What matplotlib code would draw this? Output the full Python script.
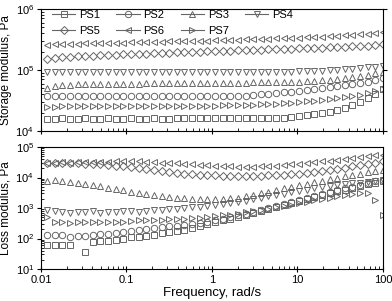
import numpy as np
import matplotlib
matplotlib.use("Agg")
import matplotlib.pyplot as plt
from matplotlib.lines import Line2D
from matplotlib.ticker import LogLocator, NullFormatter

plt.rcParams['font.family'] = ['Liberation Sans', 'DejaVu Sans']
plt.rcParams['mathtext.fontset'] = 'custom'
plt.rcParams['mathtext.rm'] = 'Liberation Sans'

# Frequency, rad/s
freq = [0.01175, 0.01443, 0.01772, 0.02178, 0.02675, 0.03285, 0.04035, 0.04957, 0.06090,
        0.07478, 0.09187, 0.1129, 0.1386, 0.1703, 0.2092, 0.2569, 0.3156, 0.3877, 0.4763,
        0.5849, 0.7185, 0.8825, 1.084, 1.331, 1.636, 2.009, 2.468, 3.031, 3.724, 4.574,
        5.617, 6.901, 8.478, 10.41, 12.79, 15.71, 19.30, 23.71, 29.12, 35.77, 43.94,
        53.97, 66.30, 81.43, 100.0]

labels = ["PS1", "PS2", "PS3", "PS4", "PS5", "PS6", "PS7"]
markers = ["s", "o", "^", "v", "D", "<", ">"]

# Storage modulus, Pa
g1_ps1 = [16000, 16000, 16100, 16000, 16000, 16100, 16000, 16000, 16100, 16000, 16000, 16100,
          16000, 16000, 16100, 16000, 16000, 16100, 16100, 16100, 16100, 16100, 16100, 16200,
          16200, 16200, 16200, 16300, 16300, 16300, 16300, 16600, 17000, 17500, 18000, 18700,
          19500, 20500, 22000, 24000, 27000, 30000, 35000, 41000, 49000]
g1_ps2 = [37000, 37000, 37000, 37000, 37000, 37000, 37000, 37000, 37000, 37000, 37000, 37000,
          37000, 37000, 37000, 37000, 37000, 37000, 37000, 37000, 37000, 37000, 37000, 37200,
          37400, 37700, 38000, 39000, 40000, 41000, 42000, 43000, 44000, 45500, 47000, 48500,
          50000, 52000, 54000, 56000, 58000, 61000, 64000, 68000, 74000]
g1_ps3 = [50000, 55000, 57000, 57500, 58000, 58500, 59000, 59000, 59500, 59500, 60000, 60000,
          60000, 60500, 60500, 60500, 61000, 61000, 61000, 61000, 61000, 61500, 61500, 61500,
          62000, 62000, 62000, 62500, 62500, 63000, 63000, 63500, 64000, 64000, 65000, 66000,
          67500, 69000, 71000, 73000, 76000, 79000, 83000, 88000, 94000]
g1_ps4 = [92000, 92000, 92000, 92000, 92000, 92000, 92000, 92000, 92000, 92000, 92000, 92000,
          92000, 92000, 92000, 92000, 92000, 92000, 92000, 92000, 92000, 92000, 92000, 92000,
          92000, 92000, 92000, 92500, 92500, 93000, 93000, 93500, 94000, 95000, 96000, 97000,
          98000, 99500, 101000, 103000, 105000, 108000, 111000, 114000, 118000]
g1_ps5 = [152000, 158000, 162000, 165000, 168000, 170000, 172000, 174000, 176000, 178000,
          180000, 182000, 184000, 186000, 188000, 190000, 192000, 194000, 196000, 198000,
          200000, 202000, 204000, 206000, 208000, 210000, 212000, 214000, 216000, 218000,
          220000, 222000, 224000, 226000, 228000, 230000, 232000, 235000, 238000, 241000,
          244000, 248000, 252000, 257000, 262000]
g1_ps6 = [255000, 262000, 266000, 268000, 270000, 272000, 274000, 276000, 278000, 280000,
          282000, 284000, 286000, 288000, 290000, 292000, 294000, 296000, 298000, 300000,
          302000, 304000, 307000, 310000, 313000, 316000, 319000, 322000, 325000, 328000,
          331000, 334000, 337000, 341000, 345000, 349000, 353000, 358000, 363000, 369000,
          375000, 382000, 392000, 405000, 420000]
g1_ps7 = [24500, 25000, 25500, 25500, 25500, 25500, 25500, 25500, 25500, 25500, 25700, 25700,
          25700, 25700, 25700, 25700, 25800, 25800, 25800, 25800, 26000, 26000, 26000, 26200,
          26400, 26600, 26800, 27000, 27300, 27600, 28000, 28400, 29000, 29700, 30500, 31200,
          32000, 33200, 34500, 36000, 37500, 39500, 42000, 45000, 48000]

# Loss modulus, Pa
g2_ps1 = [60, 62, 63, 60, np.nan, 37, 75, 80, 85, 90, 100, 108, 116, 125, 135, 146, 158, 172,
          190, 220, 255, 295, 340, 390, 450, 520, 600, 690, 800, 930, 1080, 1250, 1450, 1700,
          1980, 2300, 2650, 3050, 3500, 4000, 4600, 5200, 5900, 6600, 7400]
g2_ps2 = [130, 130, 135, 110, 120, 125, 130, 140, 145, 150, 165, 180, 190, 205, 220, 235, 250,
          265, 280, 300, 320, 350, 390, 440, 500, 570, 650, 750, 870, 1000, 1160, 1350, 1570,
          1820, 2100, 2450, 2850, 3300, 3800, 4400, 5000, 5700, 6500, 7400, 8300]
g2_ps3 = [7400, 8000, 7800, 7300, 6800, 6200, 5600, 5100, 4600, 4200, 3800, 3400, 3100, 2850,
          2650, 2450, 2300, 2150, 2050, 2000, 1950, 1950, 1950, 2000, 2100, 2200, 2400, 2700,
          3000, 3400, 3900, 4400, 5000, 5600, 6300, 7000, 7800, 8700, 9700, 10800, 12000,
          13400, 14800, 16400, 18000]
g2_ps4 = [870, 800, 750, 700, 750, 720, 780, 700, 720, 760, 780, 800, 760, 800, 850, 870, 900,
          950, 1000, 1050, 1100, 1150, 1250, 1350, 1450, 1600, 1750, 1950, 2150, 2400, 2650,
          2950, 3300, 3650, 4000, 4400, 4800, 5200, 5600, 6000, 6400, 6800, 7200, 7600, 8000]
g2_ps5 = [29000, 30000, 30000, 29500, 29000, 28500, 28000, 27000, 26000, 24500, 23000, 21500,
          20000, 18500, 17000, 16000, 15000, 14000, 13300, 12800, 12300, 12000, 11800, 11600,
          11500, 11400, 11400, 11500, 11600, 11800, 12000, 12400, 12800, 13400, 14000, 15000,
          16000, 17500, 19000, 21000, 23000, 25500, 28000, 31000, 34000]
g2_ps6 = [31000, 31000, 31500, 31000, 31500, 32000, 32000, 32500, 33000, 33500, 34000, 34000,
          33500, 33000, 32000, 31000, 30000, 29000, 28000, 27000, 26000, 25000, 24000, 23500,
          23000, 22500, 22500, 22500, 23000, 23500, 24500, 25500, 27000, 28500, 30000, 32000,
          34000, 36000, 38500, 41000, 44000, 47000, 50000, 53000, 56000]
g2_ps7 = [520, 360, 340, 330, 340, 335, 340, 345, 350, 350, 360, 380, 390, 395, 400, 410, 420,
          430, 440, 455, 470, 500, 530, 570, 610, 660, 720, 790, 870, 960, 1060, 1170, 1300,
          1450, 1600, 1780, 1980, 2200, 2450, 2700, 2950, 3100, 3000, 1800, 600]

storage = [g1_ps1, g1_ps2, g1_ps3, g1_ps4, g1_ps5, g1_ps6, g1_ps7]
loss = [g2_ps1, g2_ps2, g2_ps3, g2_ps4, g2_ps5, g2_ps6, g2_ps7]

col = "#666666"
ms = 4.6
mew = 0.7


def msize(m):
    return ms * 0.85 if m == "D" else ms


fig = plt.figure(figsize=(3.92, 3.01), dpi=100)
ax1 = fig.add_axes([0.1046, 0.5648, 0.8724, 0.4053])
ax2 = fig.add_axes([0.1046, 0.1063, 0.8724, 0.4053])

for ax, data in [(ax1, storage), (ax2, loss)]:
    for vals, m in zip(data, markers):
        ax.plot(freq, vals, linestyle="none", marker=m, markersize=msize(m),
                markerfacecolor="none", markeredgecolor=col, markeredgewidth=mew)
    ax.set_xscale("log")
    ax.set_yscale("log")
    ax.set_xlim(0.01, 100)
    ax.xaxis.set_minor_locator(LogLocator(base=10, subs=np.arange(2, 10)))
    ax.yaxis.set_minor_locator(LogLocator(base=10, subs=np.arange(2, 10), numticks=20))
    ax.yaxis.set_major_locator(LogLocator(base=10, numticks=20))
    ax.xaxis.set_minor_formatter(NullFormatter())
    ax.yaxis.set_minor_formatter(NullFormatter())
    ax.tick_params(which="major", direction="inout", length=5, width=0.8, labelsize=8, pad=2)
    ax.tick_params(which="minor", direction="in", length=2.5, width=0.6)
    ax.tick_params(axis="y", which="major", direction="out", length=3)
    for s in ax.spines.values():
        s.set_linewidth(0.8)

ax1.set_ylim(1e4, 1e6)
ax2.set_ylim(10, 1e5)
ax1.tick_params(axis="x", labelbottom=False)
ax1.tick_params(axis="y", which="major", right=True)
ax1.set_ylabel("Storage modulus, Pa", fontsize=8.5)
ax2.set_ylabel("Loss modulus, Pa", fontsize=8.5)
ax1.yaxis.set_label_coords(-0.085, 0.5)
ax2.yaxis.set_label_coords(-0.085, 0.5)
ax2.set_xlabel("Frequency, rad/s", fontsize=9.5, labelpad=1)
ax2.set_xticks([0.01, 0.1, 1, 10, 100])
ax2.set_xticklabels(["0.01", "0.1", "1", "10", "100"])

# legend fills rows: PS1..PS4 on top, PS5..PS7 below
order = [0, 4, 1, 5, 2, 6, 3]
handles = [Line2D([], [], color=col, linewidth=0.8, marker=markers[i],
                  markersize=msize(markers[i]), markerfacecolor="none",
                  markeredgecolor=col, markeredgewidth=mew) for i in order]
ax1.legend(handles, [labels[i] for i in order], ncol=4, loc="upper left",
           bbox_to_anchor=(0.032, 0.995), frameon=False, fontsize=8,
           handlelength=2.1, handletextpad=0.35, columnspacing=1.45,
           labelspacing=0.55, borderaxespad=0, borderpad=0)

plt.savefig("out.png", dpi=100)
